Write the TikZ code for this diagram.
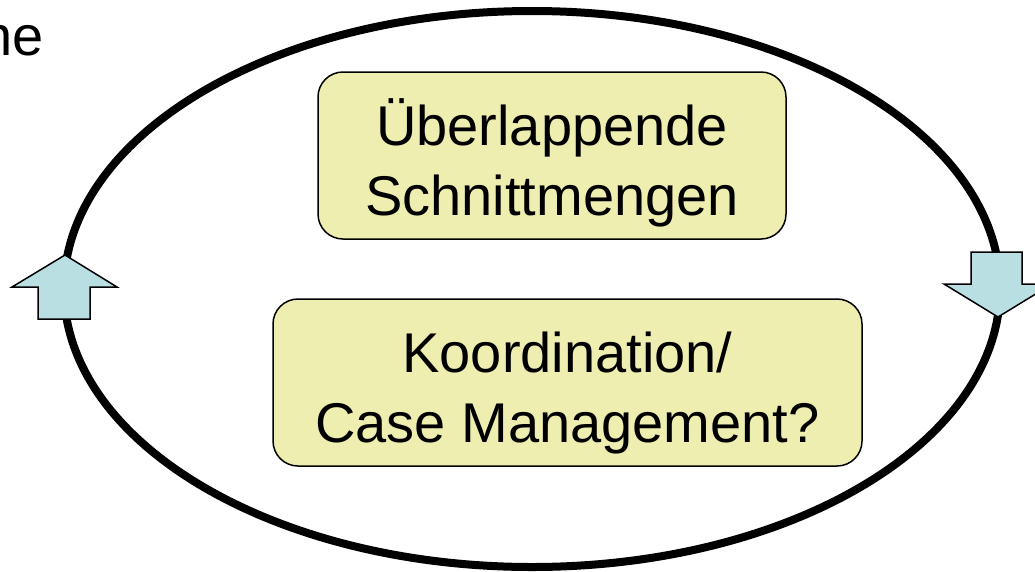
\documentclass[tikz,border=0pt]{standalone}
\usepackage{fontspec}
\setmainfont{Liberation Sans}
\definecolor{boxfill}{RGB}{237,238,175}
\definecolor{arrowfill}{RGB}{185,223,227}
% strut that lowers the two-line box texts a little
\newcommand{\toplift}{\rule{0pt}{61pt}}
\begin{document}
\begin{tikzpicture}[x=1pt,y=-1pt,
  label/.style={font=\fontsize{56}{70}\selectfont, align=center, inner sep=0pt},
  topicbox/.style={label, draw=black, line width=1.5pt, fill=boxfill,
    rounded corners=25pt, minimum height=167pt},
  blockarrow/.style={draw=black, line width=1.5pt, fill=arrowfill, line join=miter}]
  \useasboundingbox (0,0) rectangle (1035,571);
  \clip (0,0) rectangle (1035,571);

  % cycle ellipse
  \draw[line width=8pt] (532,289) ellipse [x radius=468, y radius=278];

  % partial heading at the top left
  \node[label, anchor=base east] (heading) at (44,55) {ne};

  % topic boxes
  \node[topicbox, minimum width=468pt] (overlap) at (552,155.5)
    {\toplift Überlappende\\Schnittmengen};
  \node[topicbox, minimum width=589pt] (coord) at (567.5,382.5)
    {\toplift Koordination/\\Case Management?};

  % block arrows on the ellipse
  \draw[blockarrow] (38,319) -- (38,287) -- (12,287) -- (65,255)
    -- (117,287) -- (90,287) -- (90,319) -- cycle;
  \draw[blockarrow] (971,252) -- (1022,252) -- (1022,284) -- (1052,284)
    -- (998,317) -- (944,284) -- (971,284) -- cycle;
\end{tikzpicture}
\end{document}
